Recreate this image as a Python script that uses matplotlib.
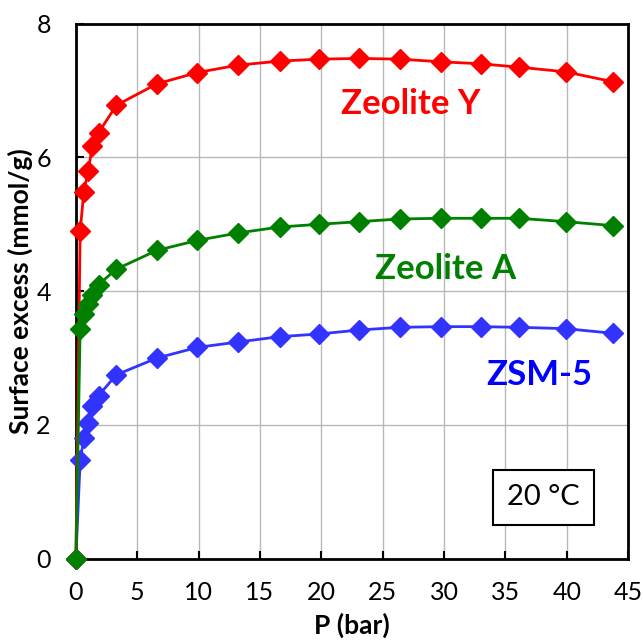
import numpy as np
import matplotlib
matplotlib.use('Agg')
import matplotlib.pyplot as plt

plt.rcParams['font.family'] = ['Lato', 'DejaVu Sans']

# pressure (bar)
p_bar = [0, 0.35, 0.65, 1.0, 1.35, 1.85, 3.3, 6.6, 9.9, 13.2, 16.6, 19.8,
         23.1, 26.4, 29.75, 33.0, 36.1, 39.9, 43.8]

# surface excess (mmol/g)
zeo_y = [0, 4.90, 5.49, 5.80, 6.17, 6.37, 6.78, 7.10, 7.27, 7.38, 7.44, 7.47,
         7.48, 7.47, 7.43, 7.40, 7.35, 7.28, 7.13]
zeo_a = [0, 3.44, 3.66, 3.81, 3.95, 4.10, 4.33, 4.61, 4.76, 4.87, 4.96, 5.00,
         5.04, 5.08, 5.09, 5.09, 5.09, 5.04, 4.98]
zsm5 = [0, 1.47, 1.80, 2.03, 2.28, 2.44, 2.75, 3.00, 3.16, 3.24, 3.32, 3.36,
        3.42, 3.46, 3.47, 3.47, 3.46, 3.44, 3.37]

fig = plt.figure(figsize=(6.43, 6.40), dpi=100)
ax = fig.add_axes([0.118, 0.127, 0.859, 0.836])

ax.plot(p_bar, zsm5, color='#3333FF', marker='D', ms=10, lw=2, zorder=3, clip_on=False)
ax.plot(p_bar, zeo_y, color='#FF0000', marker='D', ms=10, lw=2, zorder=3, clip_on=False)
ax.plot(p_bar, zeo_a, color='#008000', marker='D', ms=10, lw=2, zorder=4, clip_on=False)

ax.set_xlim(0, 45)
ax.set_ylim(0, 8)
ax.set_xticks(np.arange(0, 46, 5))
ax.set_yticks(np.arange(0, 9, 2))
ax.grid(True, color='#b8b8b8', lw=1)
ax.set_axisbelow(True)
for s in ax.spines.values():
    s.set_linewidth(2)
    s.set_color('black')
ax.tick_params(direction='in', length=6, width=1.5, labelsize=18)
ax.tick_params(axis='x', pad=16)
ax.tick_params(axis='y', pad=18)

ax.set_xlabel('P (bar)', fontsize=19, fontweight='bold', labelpad=6)
ax.set_ylabel('Surface excess (mmol/g)', fontsize=19, fontweight='bold', labelpad=2)

ax.text(27.3, 6.80, 'Zeolite Y', color='#FF0000', fontsize=25, fontweight='bold',
        ha='center', va='center')
ax.text(30.1, 4.33, 'Zeolite A', color='#008000', fontsize=25, fontweight='bold',
        ha='center', va='center')
ax.text(37.75, 2.74, 'ZSM-5', color='#0000FF', fontsize=25, fontweight='bold',
        ha='center', va='center')
ax.text(38.1, 0.92, '20 \u00b0C', color='black', fontsize=21, ha='center', va='center',
        bbox=dict(boxstyle='square,pad=0.5', fc='white', ec='black', lw=1.5))

fig.savefig('out.png', dpi=100)
